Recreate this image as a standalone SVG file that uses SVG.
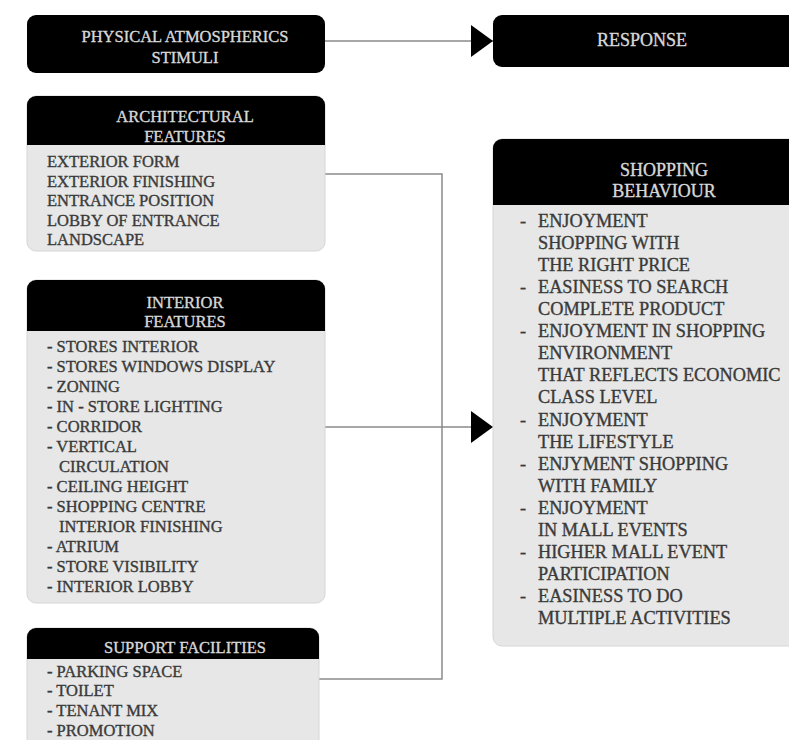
<svg xmlns="http://www.w3.org/2000/svg" width="789" height="740" viewBox="0 0 789 740">
<style>
.hd{fill:#000}
.bd{fill:#e6e7e6;stroke:#d6d6d6;stroke-width:1}
.ht{font-family:"Liberation Serif","Times New Roman",serif;font-size:16.5px;fill:#d8d8d8;stroke:#d8d8d8;stroke-width:0.35;text-anchor:middle}
.ht2{font-family:"Liberation Serif","Times New Roman",serif;font-size:18px;fill:#d8d8d8;stroke:#d8d8d8;stroke-width:0.35;text-anchor:middle}
.it{font-family:"Liberation Serif","Times New Roman",serif;font-size:16.5px;fill:#3a3a3a;stroke:#3a3a3a;stroke-width:0.35}
.it2{font-family:"Liberation Serif","Times New Roman",serif;font-size:18.3px;fill:#3a3a3a;stroke:#3a3a3a;stroke-width:0.35}
.ln{fill:none;stroke:#8a8a8a;stroke-width:1.5}
</style>
<defs>
<marker id="arr" markerWidth="22" markerHeight="32" refX="22" refY="16" orient="auto" markerUnits="userSpaceOnUse">
<path d="M0,0 L22,16 L0,32 Z" fill="#000"/>
</marker>
</defs>
<g id="connectors">
<path class="ln" d="M325,41 H493" marker-end="url(#arr)"/>
<path class="ln" d="M325,174 H442 V679 H319"/>
<path class="ln" d="M325,427 H493" marker-end="url(#arr)"/>
</g>
<g id="stimuli">
<rect x="27" y="15" width="298" height="58" rx="9" class="hd"/>
<text class="ht" x="185" y="41.5">PHYSICAL ATMOSPHERICS</text>
<text class="ht" x="185" y="62.5">STIMULI</text>
</g>
<g id="response">
<rect x="493" y="15" width="310" height="52" rx="9" class="hd"/>
<text class="ht2" x="642" y="46">RESPONSE</text>
</g>
<g id="architectural">
<rect x="27" y="96" width="298" height="155" rx="9" class="bd"/>
<path d="M27,145 V105 A9,9 0 0 1 36,96 H316 A9,9 0 0 1 325,105 V145 Z" class="hd"/>
<text class="ht" x="185" y="121.5">ARCHITECTURAL</text>
<text class="ht" x="185" y="141.5">FEATURES</text>
<text class="it" x="47" y="167">EXTERIOR FORM</text>
<text class="it" x="47" y="186.6">EXTERIOR FINISHING</text>
<text class="it" x="47" y="206.2">ENTRANCE POSITION</text>
<text class="it" x="47" y="225.8">LOBBY OF ENTRANCE</text>
<text class="it" x="47" y="245.4">LANDSCAPE</text>
</g>
<g id="interior">
<rect x="27" y="280" width="298" height="323" rx="9" class="bd"/>
<path d="M27,331 V289 A9,9 0 0 1 36,280 H316 A9,9 0 0 1 325,289 V331 Z" class="hd"/>
<text class="ht" x="185" y="308">INTERIOR</text>
<text class="ht" x="185" y="327">FEATURES</text>
<text class="it" x="47" y="351.5">- STORES INTERIOR</text>
<text class="it" x="47" y="371.5">- STORES WINDOWS DISPLAY</text>
<text class="it" x="47" y="391.5">- ZONING</text>
<text class="it" x="47" y="411.5">- IN - STORE LIGHTING</text>
<text class="it" x="47" y="431.5">- CORRIDOR</text>
<text class="it" x="47" y="451.5">- VERTICAL</text>
<text class="it" x="59" y="471.5">CIRCULATION</text>
<text class="it" x="47" y="491.5">- CEILING HEIGHT</text>
<text class="it" x="47" y="511.5">- SHOPPING CENTRE</text>
<text class="it" x="59" y="531.5">INTERIOR FINISHING</text>
<text class="it" x="47" y="551.5">- ATRIUM</text>
<text class="it" x="47" y="571.5">- STORE VISIBILITY</text>
<text class="it" x="47" y="591.5">- INTERIOR LOBBY</text>
</g>
<g id="support">
<rect x="27" y="628" width="292" height="130" rx="9" class="bd"/>
<path d="M27,659 V637 A9,9 0 0 1 36,628 H310 A9,9 0 0 1 319,637 V659 Z" class="hd"/>
<text class="ht" x="185" y="653">SUPPORT FACILITIES</text>
<text class="it" x="47" y="676.5">- PARKING SPACE</text>
<text class="it" x="47" y="696">- TOILET</text>
<text class="it" x="47" y="716">- TENANT MIX</text>
<text class="it" x="47" y="735.5">- PROMOTION</text>
</g>
<g id="shopping">
<rect x="493" y="139" width="320" height="507" rx="9" class="bd"/>
<path d="M493,205 V148 A9,9 0 0 1 502,139 H813 V205 Z" class="hd"/>
<text class="ht2" x="664" y="176">SHOPPING</text>
<text class="ht2" x="664" y="197">BEHAVIOUR</text>
<text class="it2" x="520" y="227">-</text><text class="it2" x="538" y="227">ENJOYMENT</text>
<text class="it2" x="538" y="249">SHOPPING WITH</text>
<text class="it2" x="538" y="271">THE RIGHT PRICE</text>
<text class="it2" x="520" y="293">-</text><text class="it2" x="538" y="293">EASINESS TO SEARCH</text>
<text class="it2" x="538" y="315">COMPLETE PRODUCT</text>
<text class="it2" x="520" y="337">-</text><text class="it2" x="538" y="337">ENJOYMENT IN SHOPPING</text>
<text class="it2" x="538" y="359">ENVIRONMENT</text>
<text class="it2" x="538" y="381">THAT REFLECTS ECONOMIC</text>
<text class="it2" x="538" y="403">CLASS LEVEL</text>
<text class="it2" x="520" y="426">-</text><text class="it2" x="538" y="426">ENJOYMENT</text>
<text class="it2" x="538" y="448">THE LIFESTYLE</text>
<text class="it2" x="520" y="470">-</text><text class="it2" x="538" y="470">ENJYMENT SHOPPING</text>
<text class="it2" x="538" y="492">WITH FAMILY</text>
<text class="it2" x="520" y="514">-</text><text class="it2" x="538" y="514">ENJOYMENT</text>
<text class="it2" x="538" y="536">IN MALL EVENTS</text>
<text class="it2" x="520" y="558">-</text><text class="it2" x="538" y="558">HIGHER MALL EVENT</text>
<text class="it2" x="538" y="580">PARTICIPATION</text>
<text class="it2" x="520" y="602">-</text><text class="it2" x="538" y="602">EASINESS TO DO</text>
<text class="it2" x="538" y="624">MULTIPLE ACTIVITIES</text>
</g>
</svg>
